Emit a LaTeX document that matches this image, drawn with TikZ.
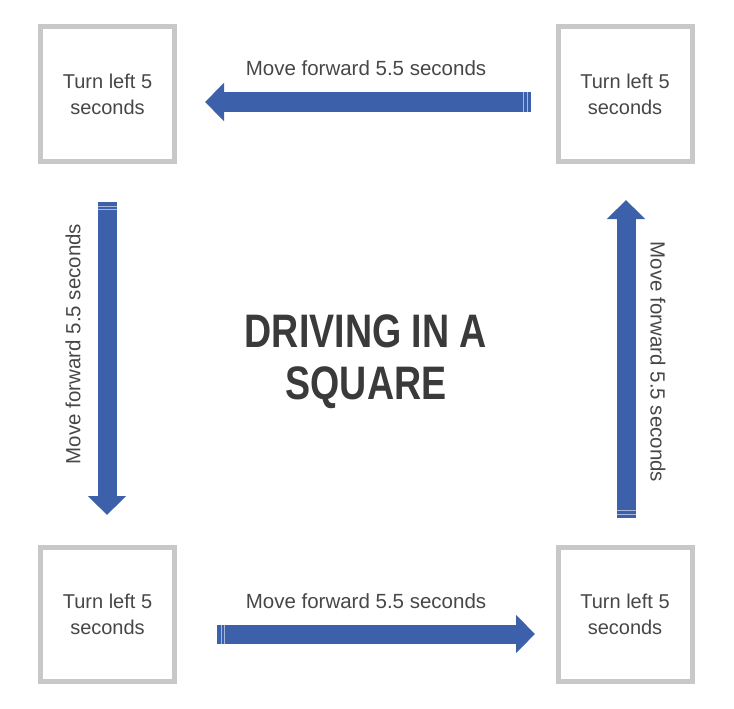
\documentclass[tikz,border=0pt]{standalone}
\usepackage{fontspec}
\setmainfont{Liberation Sans}
\usepackage{xcolor}
\usetikzlibrary{arrows.meta}

\definecolor{boxgray}{HTML}{C8C8C8}
\definecolor{arrowblue}{HTML}{3C60AA}
\definecolor{textgray}{HTML}{474747}
\definecolor{titlegray}{HTML}{3A3A3A}

\begin{document}
\begin{tikzpicture}[x=1pt, y=-1pt,
    stepbox/.style={draw=boxgray, line width=5pt, fill=white, minimum width=134pt, minimum height=134pt,
        align=center, text=textgray, font=\fontsize{20}{26}\selectfont},
    lbl/.style={text=textgray, font=\fontsize{20.5}{24}\selectfont, inner sep=0pt},
    bigarrow/.style={arrowblue, line width=19pt, -{Triangle[length=19pt, width=37pt]}},
    stripe/.style={white, opacity=0.55, line width=0.8pt}]

\useasboundingbox (0,0) rectangle (734,709);

\node[stepbox] (tl) at (107.5,94) {Turn left 5\\seconds};
\node[stepbox] (tr) at (625,94) {Turn left 5\\seconds};
\node[stepbox] (bl) at (107.5,614) {Turn left 5\\seconds};
\node[stepbox] (br) at (625,614) {Turn left 5\\seconds};

\node[text=titlegray, align=center, font=\bfseries\fontsize{47}{52}\selectfont] (ttl) at (366,362)
    {\scalebox{0.8}[1]{DRIVING IN A}\\\scalebox{0.8}[1]{SQUARE}};

\coordinate (a1s) at (531,102);
\coordinate (a1e) at (205,102);
\coordinate (a2s) at (107,202);
\coordinate (a2e) at (107,515);
\coordinate (a3s) at (217,634);
\coordinate (a3e) at (535,634);
\coordinate (a4s) at (626,518);
\coordinate (a4e) at (626,200);

\draw[bigarrow] (a1s) -- (a1e);
\draw[bigarrow] (a2s) -- (a2e);
\draw[bigarrow] (a3s) -- (a3e);
\draw[bigarrow] (a4s) -- (a4e);

% stripes at the tails
\foreach \d in {4,7.5} {
  \draw[stripe] ([xshift=-\d pt, yshift=9.5pt]a1s) -- ([xshift=-\d pt, yshift=-9.5pt]a1s);
  \draw[stripe] ([xshift=\d pt, yshift=9.5pt]a3s) -- ([xshift=\d pt, yshift=-9.5pt]a3s);
  \draw[stripe] ([xshift=-9.5pt, yshift=-\d pt]a2s) -- ([xshift=9.5pt, yshift=-\d pt]a2s);
  \draw[stripe] ([xshift=-9.5pt, yshift=\d pt]a4s) -- ([xshift=9.5pt, yshift=\d pt]a4s);
}

\node[lbl] (l1) at (366,68) {Move forward 5.5 seconds};
\node[lbl, rotate=90] (l2) at (73,344) {Move forward 5.5 seconds};
\node[lbl] (l3) at (366,601) {Move forward 5.5 seconds};
\node[lbl, rotate=-90] (l4) at (658,362) {Move forward 5.5 seconds};

\end{tikzpicture}
\end{document}
